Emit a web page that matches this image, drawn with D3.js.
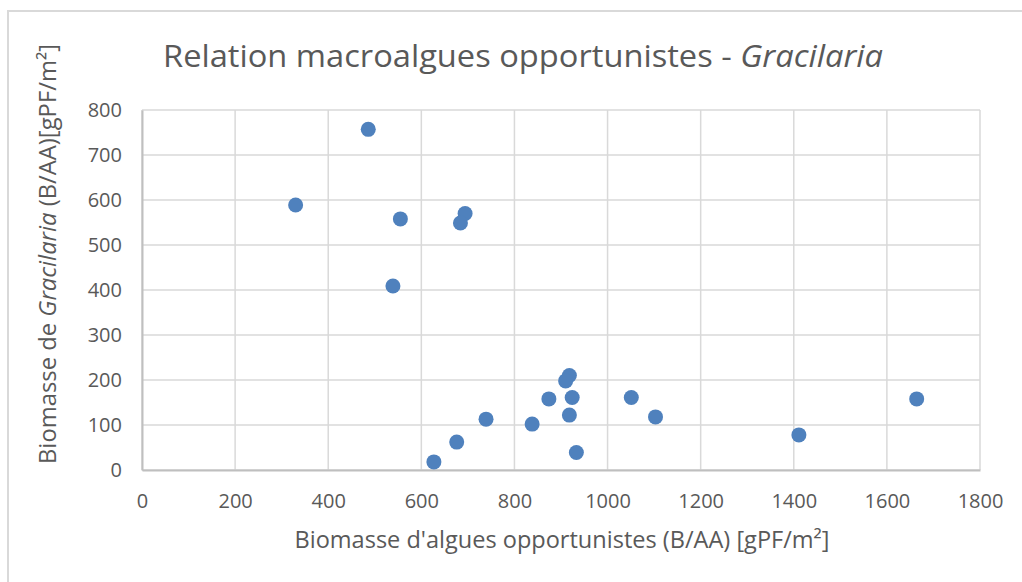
<!DOCTYPE html>
<html><head><meta charset="utf-8">
<script src="https://cdn.jsdelivr.net/npm/d3@7/dist/d3.min.js"></script>
<style>html,body{margin:0;padding:0;background:#fff;}svg{display:block;}</style>
</head><body>
<svg id="chart" width="1022" height="582"></svg>
<script>
const xValues = [486, 330, 555, 694, 684, 539, 627, 676, 739, 838, 918, 910, 874, 924, 918, 933, 1051, 1103, 1411, 1664];
const yValues = [757, 589, 558, 570, 549, 409, 18, 62, 113, 102, 210, 198, 158, 161, 122, 39, 161, 118, 78, 158];
const xTicks = [0, 200, 400, 600, 800, 1000, 1200, 1400, 1600, 1800];
const yTicks = [0, 100, 200, 300, 400, 500, 600, 700, 800];
const titleMain = "Relation macroalgues opportunistes - ";
const titleItalic = "Gracilaria";
const xTitle = "Biomasse d'algues opportunistes (B/AA) [gPF/m\u00B2]";

const svg = d3.select("#chart");
const font = "'Open Sans', 'DejaVu Sans', sans-serif";
const grey = "#595959";

svg.append("rect").attr("x", 8).attr("y", 11).attr("width", 1030).attr("height", 600)
  .attr("fill", "#fff").attr("stroke", "#d9d9d9").attr("stroke-width", 2);

const x = d3.scaleLinear().domain([0, 1800]).range([142, 980]);
const y = d3.scaleLinear().domain([0, 800]).range([470, 110]);

// gridlines
svg.append("g").selectAll("line.v").data(xTicks).join("line")
  .attr("x1", d => x(d)).attr("x2", d => x(d)).attr("y1", y(0)).attr("y2", y(800))
  .attr("stroke", "#d9d9d9").attr("stroke-width", 1.5);
svg.append("g").selectAll("line.h").data(yTicks).join("line")
  .attr("x1", x(0)).attr("x2", x(1800)).attr("y1", d => y(d)).attr("y2", d => y(d))
  .attr("stroke", "#d9d9d9").attr("stroke-width", 1.5);

// axes
const xAxis = svg.append("g").attr("transform", `translate(0,${y(0)})`)
  .call(d3.axisBottom(x).tickValues(xTicks).tickSize(0).tickPadding(24).tickFormat(d3.format("d")));
xAxis.select(".domain").attr("stroke", "#bfbfbf").attr("stroke-width", 2);
xAxis.selectAll("text").attr("fill", grey).attr("font-size", 20).attr("font-family", font);

const yAxis = svg.append("g").attr("transform", `translate(${x(0)},0)`)
  .call(d3.axisLeft(y).tickValues(yTicks).tickSize(0).tickPadding(20).tickFormat(d3.format("d")));
yAxis.select(".domain").attr("stroke", "#bfbfbf").attr("stroke-width", 2);
yAxis.selectAll("text").attr("fill", grey).attr("font-size", 20).attr("font-family", font);

// points
svg.append("g").selectAll("circle").data(xValues.map((v, i) => [v, yValues[i]])).join("circle")
  .attr("cx", d => x(d[0])).attr("cy", d => y(d[1])).attr("r", 7.5)
  .attr("fill", "#4f81bd");

// title
const t = svg.append("text").attr("x", 523).attr("y", 67).attr("text-anchor", "middle")
  .attr("font-family", font).attr("font-size", 31).attr("fill", grey)
  .attr("textLength", 720).attr("lengthAdjust", "spacingAndGlyphs");
t.append("tspan").text(titleMain);
t.append("tspan").attr("font-style", "italic").text(titleItalic);

// x title
svg.append("text").attr("x", 562).attr("y", 548).attr("text-anchor", "middle")
  .attr("font-family", font).attr("font-size", 23).attr("fill", grey)
  .attr("textLength", 535).attr("lengthAdjust", "spacingAndGlyphs").text(xTitle);

// y title
const yt = svg.append("text").attr("transform", "translate(56,254) rotate(-90)").attr("text-anchor", "middle")
  .attr("font-family", font).attr("font-size", 23).attr("fill", grey)
  .attr("textLength", 420).attr("lengthAdjust", "spacingAndGlyphs");
yt.append("tspan").text("Biomasse de ");
yt.append("tspan").attr("font-style", "italic").text("Gracilaria");
yt.append("tspan").text(" (B/AA)[gPF/m\u00B2]");
</script>
</body></html>
